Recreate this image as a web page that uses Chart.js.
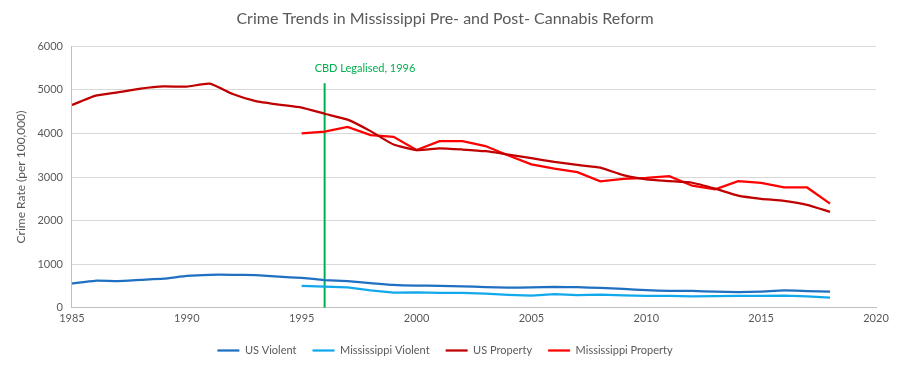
<!DOCTYPE html>
<html><head><meta charset="utf-8">
<script src="https://cdn.jsdelivr.net/npm/chart.js@4/dist/chart.umd.min.js"></script>
<style>html,body{margin:0;padding:0;background:#fff}#wrap{width:900px;height:366px;position:relative}</style>
</head><body><div id="wrap"><canvas id="c" width="900" height="366"></canvas></div>
<script>
const years = [1985,1986,1987,1988,1989,1990,1991,1992,1993,1994,1995,1996,1997,1998,1999,2000,2001,2002,2003,2004,2005,2006,2007,2008,2009,2010,2011,2012,2013,2014,2015,2016,2017,2018];
const usViolent = [558,620,612,640,667,732,758,758,747,714,685,637,611,568,523,507,505,494,476,463,469,480,472,458,432,404,387,387,369,362,373,397,383,369];
const usProperty = [4651,4862,4940,5027,5077,5073,5140,4903,4740,4660,4591,4451,4316,4052,3744,3618,3658,3630,3591,3514,3432,3346,3276,3214,3041,2946,2905,2868,2733,2574,2500,2451,2362,2200];
const msYears = [1995,1996,1997,1998,1999,2000,2001,2002,2003,2004,2005,2006,2007,2008,2009,2010,2011,2012,2013,2014,2015,2016,2017,2018];
const msViolent = [505,484,468,400,350,355,345,343,323,295,278,315,291,300,285,275,275,262,270,276,276,281,262,232];
const msProperty = [4000,4040,4150,3960,3920,3620,3820,3820,3710,3495,3290,3190,3110,2900,2955,2980,3020,2800,2715,2905,2865,2760,2760,2390];
const cbdYear = 1996;
const cbdTop = 5150;
const cbdLabel = "CBD Legalised, 1996";
const xTicks = [1985,1990,1995,2000,2005,2010,2015,2020];

const pts = (xs, ys) => xs.map((x,i)=>({x:x,y:ys[i]}));
const FONT = "Lato, 'Open Sans', sans-serif";
const GRAY = "#595959";

const cbdPlugin = {
  id:'cbd',
  afterDatasetsDraw(chart){
    const {ctx, scales:{x,y}} = chart;
    ctx.save();
    ctx.fillStyle = '#00b050';
    ctx.font = "11px " + FONT;
    ctx.textAlign = 'left';
    ctx.textBaseline = 'middle';
    ctx.fillText(cbdLabel, x.getPixelForValue(cbdYear) - 10, y.getPixelForValue(cbdTop) - 15);
    ctx.restore();
  }
};

new Chart(document.getElementById('c'), {
  type:'line',
  data:{
    datasets:[
      {label:'US Violent', data:pts(years,usViolent), borderColor:'#1f70c1', backgroundColor:'#1f70c1', borderWidth:2.25, pointRadius:0, tension:0.15},
      {label:'Mississippi Violent', data:pts(msYears,msViolent), borderColor:'#12a9ec', backgroundColor:'#12a9ec', borderWidth:2.25, pointRadius:0, tension:0},
      {label:'US Property', data:pts(years,usProperty), borderColor:'#c00000', backgroundColor:'#c00000', borderWidth:2.25, pointRadius:0, tension:0.15},
      {label:'Mississippi Property', data:pts(msYears,msProperty), borderColor:'#ff0000', backgroundColor:'#ff0000', borderWidth:2.25, pointRadius:0, tension:0},
      {label:'CBD', data:[{x:cbdYear,y:0},{x:cbdYear,y:cbdTop}], borderColor:'#00b050', backgroundColor:'#00b050', borderWidth:2, pointRadius:0}
    ]
  },
  options:{
    responsive:false, animation:false,
    layout:{padding:{left:14,right:24,top:0,bottom:0}},
    plugins:{
      title:{display:true, text:'Crime Trends in Mississippi Pre- and Post- Cannabis Reform', color:GRAY, font:{family:FONT,size:16,weight:'normal'}, padding:{top:9,bottom:18}},
      legend:{position:'bottom', labels:{filter:(it)=>it.text!=='CBD', color:GRAY, font:{family:FONT,size:11}, usePointStyle:true, pointStyle:'line', pointStyleWidth:22, boxHeight:2, padding:16}},
      tooltip:{enabled:false}
    },
    scales:{
      x:{type:'linear', min:1985, max:2020,
        afterBuildTicks:(s)=>{s.ticks = xTicks.map(v=>({value:v}));},
        ticks:{color:GRAY, font:{family:FONT,size:11}, callback:(v)=>String(v), padding:4, maxRotation:0},
        grid:{display:false, drawTicks:false},
        border:{display:true, color:'#bfbfbf', width:1}},
      y:{min:0, max:6000,
        ticks:{stepSize:1000, color:GRAY, font:{family:FONT,size:11}, padding:9, callback:(v)=>String(v)},
        grid:{color:'#d9d9d9', drawTicks:false},
        border:{display:true, color:'#bfbfbf', width:1},
        title:{display:true, text:'Crime Rate (per 100,000)', color:GRAY, font:{family:FONT,size:12}, padding:{top:0,bottom:0}}}
    }
  },
  plugins:[cbdPlugin]
});
</script></body></html>
